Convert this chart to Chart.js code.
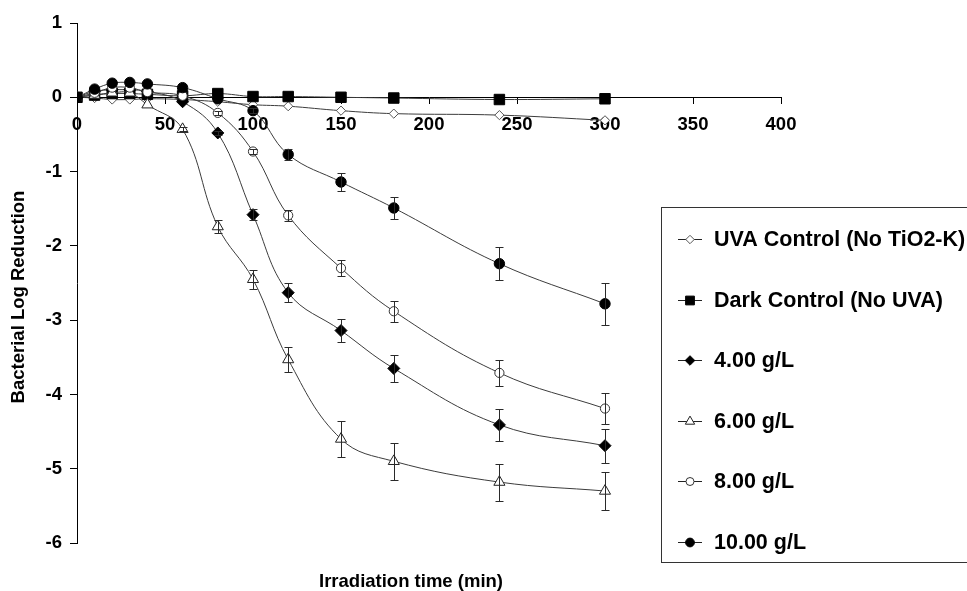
<!DOCTYPE html>
<html>
<head>
<meta charset="utf-8">
<script src="https://cdn.jsdelivr.net/npm/chart.js@4.4.1/dist/chart.umd.min.js"></script>
<style>
  html, body { margin: 0; padding: 0; background: #fff; }
  #wrap { position: relative; width: 967px; height: 591px; }
</style>
</head>
<body>
<div id="wrap"><canvas id="c" width="967" height="591"></canvas></div>
<script>
// Sampling times (min)
const times = [0, 10, 20, 30, 40, 60, 80, 100, 120, 150, 180, 240, 300];

// Mean log reduction per series
const uvaControl  = [0, -0.01, -0.03, -0.03, -0.02, -0.03, -0.06, -0.10, -0.12, -0.18, -0.22, -0.24, -0.31];
const darkControl = [0, 0.03, 0.05, 0.05, 0.04, 0.02, 0.05, 0.01, 0.01, 0.00, -0.01, -0.03, -0.02];
const dose4  = [0, 0.08, 0.10, 0.10, 0.08, -0.06, -0.48, -1.58, -2.63, -3.14, -3.65, -4.41, -4.69];
const dose6  = [0, 0.03, 0.06, 0.06, -0.10, -0.43, -1.74, -2.45, -3.53, -4.60, -4.90, -5.18, -5.30];
const dose8  = [0, 0.06, 0.13, 0.13, 0.07, 0.02, -0.21, -0.73, -1.59, -2.30, -2.88, -3.71, -4.19];
const dose10 = [0, 0.11, 0.19, 0.20, 0.18, 0.13, -0.02, -0.18, -0.77, -1.14, -1.49, -2.24, -2.78];

// Standard deviations (error bars)
const err4  = [0, 0, 0, 0, 0, 0, 0.03, 0.07, 0.13, 0.16, 0.18, 0.22, 0.23];
const err6  = [0, 0, 0, 0, 0, 0.03, 0.09, 0.13, 0.17, 0.24, 0.25, 0.25, 0.26];
const err8  = [0, 0, 0, 0, 0, 0, 0.03, 0.04, 0.07, 0.11, 0.14, 0.18, 0.21];
const err10 = [0, 0, 0, 0, 0, 0, 0, 0.03, 0.07, 0.12, 0.15, 0.22, 0.28];

const seriesLabels = ['UVA Control (No TiO2-K)', 'Dark Control (No UVA)', '4.00 g/L', '6.00 g/L', '8.00 g/L', '10.00 g/L'];
const xTickValues = [0, 50, 100, 150, 200, 250, 300, 350, 400];
const yTickValues = [1, 0, -1, -2, -3, -4, -5, -6];
const xTitle = 'Irradiation time (min)';
const yTitle = 'Bacterial Log Reduction';

const FONT = '"Liberation Sans", Arial, sans-serif';
const LINE = '#3c3c3c';

function pts(vals) { return vals.map((v, i) => ({ x: times[i], y: v })); }

const styles = [
  { pointStyle: 'rectRot',  radius: 4.6, fill: '#fff', stroke: '#555', legendRadius: 4.2 },
  { pointStyle: 'rect',     radius: 7.4, fill: '#000', stroke: '#000', legendRadius: 6.2 },
  { pointStyle: 'rectRot',  radius: 6,   fill: '#000', stroke: '#000', legendRadius: 4.8 },
  { pointStyle: 'triangle', radius: 6.4, fill: '#fff', stroke: '#222', legendRadius: 5.4 },
  { pointStyle: 'circle',   radius: 4.6, fill: '#fff', stroke: '#333', legendRadius: 4.0 },
  { pointStyle: 'circle',   radius: 5.2, fill: '#000', stroke: '#000', legendRadius: 4.4 }
];
const values = [uvaControl, darkControl, dose4, dose6, dose8, dose10];
const errors = [null, null, err4, err6, err8, err10];

const datasets = values.map((vals, i) => ({
  label: seriesLabels[i],
  data: pts(vals),
  errors: errors[i],
  borderColor: LINE,
  borderWidth: 1,
  tension: 0.4,
  fill: false,
  pointStyle: styles[i].pointStyle,
  pointRadius: styles[i].radius,
  pointBackgroundColor: styles[i].fill,
  pointBorderColor: styles[i].stroke,
  pointBorderWidth: 1,
  order: values.length - i
}));

// Vertical error bars with caps
const errorBars = {
  id: 'errorBars',
  afterDatasetsDraw(chart) {
    const { ctx, scales: { x, y } } = chart;
    ctx.save();
    ctx.strokeStyle = '#2a2a2a';
    ctx.lineWidth = 1;
    chart.data.datasets.forEach(ds => {
      if (!ds.errors) return;
      ds.data.forEach((p, j) => {
        const e = ds.errors[j];
        if (!e) return;
        const px = Math.round(x.getPixelForValue(p.x)) + 0.5;
        const yTop = Math.round(y.getPixelForValue(p.y + e)) + 0.5;
        const yBot = Math.round(y.getPixelForValue(p.y - e)) + 0.5;
        ctx.beginPath();
        ctx.moveTo(px, yTop); ctx.lineTo(px, yBot);
        ctx.moveTo(px - 4, yTop); ctx.lineTo(px + 4, yTop);
        ctx.moveTo(px - 4, yBot); ctx.lineTo(px + 4, yBot);
        ctx.stroke();
      });
    });
    ctx.restore();
  }
};

// Axis titles and the boxed legend
const annotations = {
  id: 'annotations',
  afterDraw(chart) {
    const { ctx } = chart;
    ctx.save();
    ctx.fillStyle = '#000';
    ctx.font = 'bold 18.5px ' + FONT;
    ctx.textAlign = 'center';
    ctx.textBaseline = 'middle';
    ctx.fillText(xTitle, 411, 582);
    ctx.translate(19, 297);
    ctx.rotate(-Math.PI / 2);
    ctx.fillText(yTitle, 0, 0);
    ctx.restore();

    // legend box
    ctx.save();
    ctx.strokeStyle = '#333';
    ctx.lineWidth = 1;
    ctx.strokeRect(661.5, 207.5, 320, 355);
    ctx.font = 'bold 21.5px ' + FONT;
    ctx.textAlign = 'left';
    ctx.textBaseline = 'middle';
    chart.data.datasets.forEach((ds, i) => {
      const cy = Math.round(239 + i * 60.6) + 0.5;
      ctx.strokeStyle = '#222';
      ctx.beginPath();
      ctx.moveTo(678, cy); ctx.lineTo(702, cy);
      ctx.stroke();
      ctx.fillStyle = styles[i].fill;
      ctx.strokeStyle = styles[i].stroke;
      Chart.helpers.drawPoint(ctx, {
        pointStyle: styles[i].pointStyle,
        radius: styles[i].legendRadius,
        rotation: 0,
        borderWidth: 1
      }, 690, cy);
      ctx.fillStyle = '#000';
      ctx.fillText(ds.label, 714, cy + 1);
    });
    ctx.restore();
  }
};

new Chart(document.getElementById('c'), {
  type: 'line',
  data: { datasets },
  plugins: [errorBars, annotations],
  options: {
    responsive: false,
    animation: false,
    events: [],
    layout: { padding: { left: 0, right: 186, top: 23, bottom: 48 } },
    plugins: { legend: { display: false }, tooltip: { enabled: false }, title: { display: false } },
    scales: {
      x: {
        type: 'linear',
        position: { y: 0 },
        min: 0, max: 400,
        afterBuildTicks(scale) { scale.ticks = xTickValues.map(v => ({ value: v })); },
        ticks: { color: '#000', font: { family: FONT, size: 18.5, weight: 'bold' }, padding: 11, maxRotation: 0 },
        grid: { drawOnChartArea: false, drawTicks: true, tickLength: 6, color: '#000' },
        border: { display: true, color: '#000', width: 1 }
      },
      y: {
        type: 'linear',
        min: -6, max: 1,
        afterBuildTicks(scale) { scale.ticks = yTickValues.map(v => ({ value: v })); },
        afterFit(scale) { scale.width = 77; },
        ticks: { color: '#000', font: { family: FONT, size: 18.5, weight: 'bold' }, padding: 8 },
        grid: { drawOnChartArea: false, drawTicks: true, tickLength: 7, color: '#000' },
        border: { display: true, color: '#000', width: 1 }
      }
    }
  }
});
</script>
</body>
</html>
